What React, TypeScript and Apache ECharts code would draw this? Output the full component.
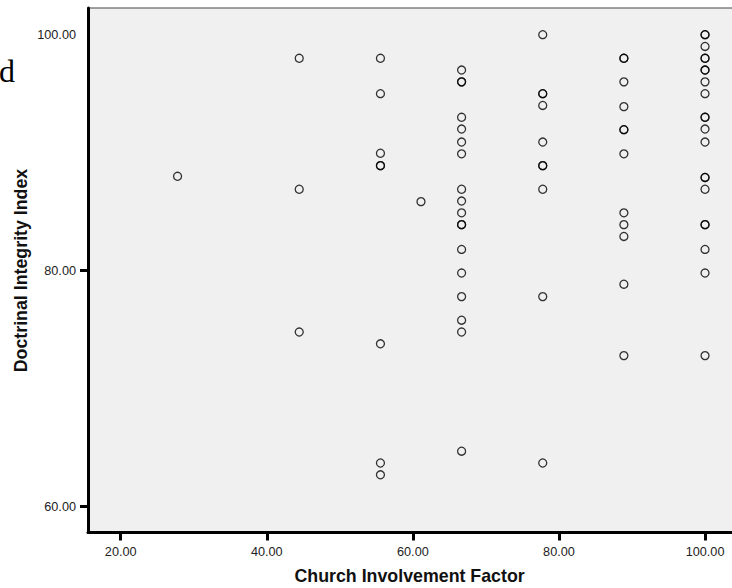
import React, { useEffect, useRef } from "react";
import * as echarts from "echarts";

// Church Involvement Factor levels (x) and Doctrinal Integrity Index values (y) per level
const involvementLevels = [27.78, 44.44, 55.56, 61.11, 66.67, 77.78, 88.89, 100];
const integrityAt2778 = [88.0];
const integrityAt4444 = [98.0, 86.9, 74.8];
const integrityAt5556 = [98.0, 95.0, 89.95, 88.9, 88.9, 73.8, 63.7, 62.7];
const integrityAt6111 = [85.85];
const integrityAt6667 = [97.0, 96.0, 96.0, 93.0, 92.0, 90.9, 89.9, 86.9, 85.9, 84.9, 83.9, 83.9, 81.8, 79.8, 77.8, 75.8, 74.8, 64.7];
const integrityAt7778 = [100.0, 95.0, 95.0, 94.0, 90.9, 88.9, 88.9, 86.9, 77.8, 63.7];
const integrityAt8889 = [98.0, 98.0, 96.0, 93.9, 91.95, 91.95, 89.9, 84.9, 83.9, 82.9, 78.85, 72.8];
const integrityAt100 = [100.0, 100.0, 99.0, 98.0, 98.0, 97.0, 97.0, 96.0, 95.0, 93.0, 93.0, 92.0, 90.9, 87.9, 87.9, 86.9, 83.9, 83.9, 81.8, 79.8, 72.8];

const integrityByLevel = [
  integrityAt2778,
  integrityAt4444,
  integrityAt5556,
  integrityAt6111,
  integrityAt6667,
  integrityAt7778,
  integrityAt8889,
  integrityAt100,
];

const xTickValues = [20, 40, 60, 80, 100];
const yLabelValues = [60, 80, 100];
const yTickValues = [60, 80];

const xTitle = "Church Involvement Factor";
const yTitle = "Doctrinal Integrity Index";
const strayText = "d";

const FONT = "'Liberation Sans', Arial, Helvetica, sans-serif";

export default function App() {
  const ref = useRef<HTMLDivElement>(null);

  useEffect(() => {
    if (!ref.current) return;
    const chart = echarts.init(ref.current, null, { renderer: "svg" });
    const points: number[][] = [];
    involvementLevels.forEach((lvl, i) => {
      integrityByLevel[i].forEach((v) => points.push([lvl, v]));
    });

    chart.setOption({
      animation: false,
      backgroundColor: "#ffffff",
      grid: {
        left: 88,
        right: 14,
        top: 8,
        bottom: 55.5,
        show: true,
        backgroundColor: "#f0f0f0",
        borderColor: "#444444",
        borderWidth: 1,
      },
      xAxis: {
        type: "value",
        min: 15.52,
        max: 104.24,
        axisLine: { show: true, onZero: false, lineStyle: { color: "#000", width: 3 } },
        axisTick: {
          show: true,
          customValues: xTickValues,
          length: 8,
          lineStyle: { color: "#000", width: 3 },
        },
        axisLabel: {
          customValues: xTickValues,
          formatter: (v: number) => v.toFixed(2),
          color: "#222",
          fontFamily: FONT,
          fontSize: 12.7,
          margin: 13,
        },
        splitLine: { show: false },
      },
      yAxis: {
        type: "value",
        min: 57.81,
        max: 102.26,
        axisLine: { show: true, onZero: false, lineStyle: { color: "#000", width: 3 } },
        axisTick: {
          show: true,
          customValues: yTickValues,
          length: 8,
          lineStyle: { color: "#000", width: 3 },
        },
        axisLabel: {
          customValues: yLabelValues,
          formatter: (v: number) => v.toFixed(2),
          color: "#222",
          fontFamily: FONT,
          fontSize: 12.7,
          margin: 12,
        },
        splitLine: { show: false },
      },
      series: [
        {
          type: "scatter",
          data: points,
          symbol: "circle",
          symbolSize: 8,
          itemStyle: {
            color: "rgba(0,0,0,0)",
            borderColor: "#000",
            borderWidth: 1.3,
          },
          emphasis: { disabled: true },
        },
      ],
      graphic: [
        {
          type: "text",
          left: 409.5 - 115,
          top: 567,
          style: {
            text: xTitle,
            fontFamily: FONT,
            fontWeight: "bold",
            fontSize: 17.8,
            fill: "#111",
          },
        },
        {
          type: "text",
          x: 20.5,
          y: 270.5,
          rotation: Math.PI / 2,
          style: {
            text: yTitle,
            fontFamily: FONT,
            fontWeight: "bold",
            fontSize: 17.8,
            fill: "#111",
            textAlign: "center",
            textVerticalAlign: "middle",
          },
        },
        {
          type: "text",
          x: -1,
          y: 87,
          style: {
            text: strayText,
            fontFamily: "'Liberation Serif', 'Times New Roman', serif",
            fontSize: 32,
            fill: "#000",
            textVerticalAlign: "bottom",
          },
        },
      ],
    });

    return () => chart.dispose();
  }, []);

  return (
    <div
      style={{
        position: "fixed",
        left: 0,
        top: 0,
        width: 732,
        height: 588,
        overflow: "hidden",
        background: "#fff",
      }}
    >
      <div ref={ref} style={{ width: 750, height: 588 }} />
    </div>
  );
}
